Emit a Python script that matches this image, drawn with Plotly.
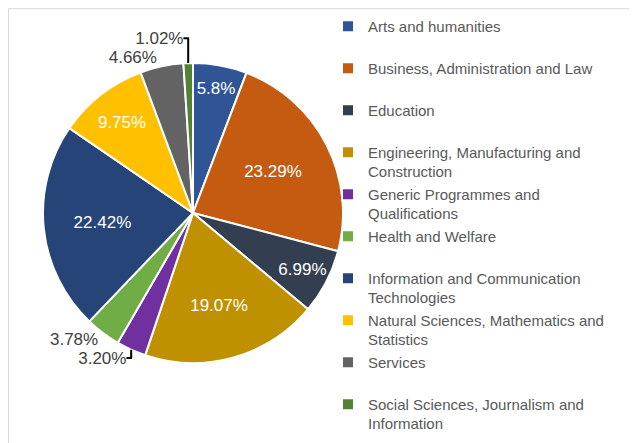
import plotly.graph_objects as go

# Share of graduates by field of study (%)
fields = [
    "Arts and humanities",
    "Business, Administration and Law",
    "Education",
    "Engineering, Manufacturing and<br>Construction",
    "Generic Programmes and<br>Qualifications",
    "Health and Welfare",
    "Information and Communication<br>Technologies",
    "Natural Sciences, Mathematics and<br>Statistics",
    "Services",
    "Social Sciences, Journalism and<br>Information",
]
shares = [5.8, 23.29, 6.99, 19.07, 3.20, 3.78, 22.42, 9.75, 4.66, 1.02]
share_labels = ["5.8%", "23.29%", "6.99%", "19.07%", "3.20%",
                "3.78%", "22.42%", "9.75%", "4.66%", "1.02%"]

colors = ["#2F5597", "#C55A11", "#333F50", "#BF9000", "#7030A0",
          "#70AD47", "#264478", "#FFC000", "#636363", "#548235"]

# small slices get their label outside
positions = ["inside" if v > 5 else "outside" for v in shares]
text_colors = ["white" if p == "inside" else "#404040" for p in positions]

# every legend entry takes two lines so the spacing stays even
legend_names = [f if "<br>" in f else f + "<br> " for f in fields]

fig = go.Figure()
fig.add_trace(go.Pie(
    labels=legend_names,
    values=shares,
    text=share_labels,
    textinfo="text",
    textposition=positions,
    insidetextorientation="horizontal",
    textfont=dict(family="Liberation Sans, Arial", size=17, color=text_colors),
    marker=dict(colors=colors, line=dict(color="white", width=2)),
    sort=False,
    direction="clockwise",
    rotation=0,
    hovertemplate="%{label}: %{text}<extra></extra>",
))

# the page body adds an 8px offset, so margins are pulled in by that much
fig.update_layout(
    width=637,
    height=443,
    margin=dict(l=35, r=302, t=55, b=88, autoexpand=False),
    paper_bgcolor="white",
    plot_bgcolor="white",
    font=dict(family="Liberation Sans, Arial", color="#595959"),
    legend=dict(
        x=0.95, y=1.177, xanchor="left", yanchor="top",
        valign="top",
        maxheight=1,
        font=dict(size=15, color="#595959"),
        bgcolor="rgba(0,0,0,0)",
    ),
    shapes=[dict(
        type="rect", xref="paper", yref="paper",
        x0=-0.115, x1=2.1, y0=-0.4, y1=1.181,
        line=dict(color="#D9D9D9", width=1),
    )],
)

fig.write_html("out.html")
